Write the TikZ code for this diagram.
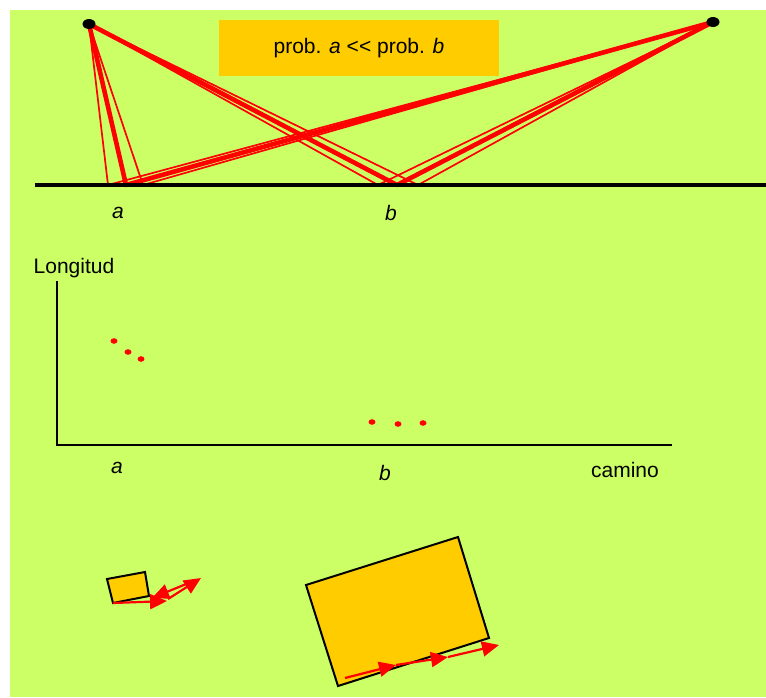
\documentclass[tikz,border=0pt]{standalone}
\usepackage{fontspec}
\setmainfont{Liberation Sans}
\usetikzlibrary{arrows.meta}
\definecolor{bggreen}{HTML}{CCFF66}
\definecolor{boxorange}{HTML}{FFCC00}
\definecolor{rayred}{HTML}{FF0000}
\tikzset{
  lbl/.style={font=\fontsize{21}{25}\selectfont, inner sep=0pt},
  thinray/.style={draw=rayred, line width=1.7pt},
  thickray/.style={draw=rayred, line width=4.6pt, line join=round},
  rdot/.style={fill=rayred, draw=none},
  axis/.style={draw=black, line width=2pt},
  obj/.style={draw=black, line width=2pt, fill=boxorange, line join=miter},
  redarrow/.style={draw=rayred, line width=2.2pt, -{Triangle[length=17pt,width=15pt]}},
}
\begin{document}
\begin{tikzpicture}[x=1pt,y=-1pt]
\useasboundingbox (0,0) rectangle (766,697);
\fill[white] (0,0) rectangle (766,697);
\fill[bggreen] (10,10) rectangle (766,697);

% sources
\coordinate (S) at (89,24);
\coordinate (T) at (713,22);
\coordinate (a1) at (108,185);
\coordinate (a2) at (126,185);
\coordinate (a3) at (143,185);
\coordinate (b1) at (378,185);
\coordinate (b2) at (397,185);
\coordinate (b3) at (418,185);

\draw[thinray] (S) -- (a1) -- (T);
\draw[thinray] (S) -- (a3) -- (T);
\draw[thinray] (S) -- (b1) -- (T);
\draw[thinray] (S) -- (b3) -- (T);
\draw[thickray] (S) -- (a2) -- (T);
\draw[thickray] (S) -- (b2) -- (T);

% ground
\coordinate (g0) at (35,185);
\coordinate (g1) at (766,185);
\draw[line width=4pt] (g0) -- (g1);

\fill[black] (S) ellipse (6.5 and 5);
\fill[black] (T) ellipse (6.5 and 5);

\node[fill=boxorange, minimum width=280pt, minimum height=56pt, inner sep=0pt, font=\fontsize{21}{25}\selectfont] (prob) at (359,48) {prob. \textit{a} {<}{<} prob. \textit{b}};

\node[lbl] (la) at (118,213) {\textit{a}};
\node[lbl] (lb) at (391,213) {\textit{b}};

% graph
\coordinate (O) at (57,445);
\coordinate (Ytop) at (57,281);
\coordinate (Xend) at (672,445);
\draw[axis] (Ytop) -- (O) -- (Xend);
\node[lbl] (long) at (74,268) {Longitud};
\node[lbl] (ga) at (117,468) {\textit{a}};
\node[lbl] (gb) at (385,473) {\textit{b}};
\node[lbl] (cam) at (625,470) {camino};

\fill[rdot] (114,341) ellipse (3.5 and 2.8);
\fill[rdot] (128,352) ellipse (3.5 and 2.8);
\fill[rdot] (141,359) ellipse (3.5 and 2.8);
\fill[rdot] (372,422) ellipse (3.5 and 2.8);
\fill[rdot] (398,424) ellipse (3.5 and 2.8);
\fill[rdot] (423,423) ellipse (3.5 and 2.8);

% small object
\draw[obj] (107,579) -- (145,572) -- (149,596) -- (113,603) -- cycle;
\coordinate (sA0) at (113,603);
\coordinate (sA1) at (167,601);
\coordinate (sB0) at (196,580);
\coordinate (sB1) at (152,598);
\coordinate (sC0) at (168,599);
\coordinate (sC1) at (201,578);
\draw[redarrow] (sA0) -- (sA1);
\draw[redarrow] (sB0) -- (sB1);
\draw[redarrow] (sC0) -- (sC1);

% large object
\draw[obj] (306,585) -- (458,537) -- (489,638) -- (338,686) -- cycle;
\coordinate (L0) at (345,678);
\coordinate (L1) at (396,665);
\coordinate (L2) at (448,657);
\coordinate (L3) at (499,645);
\draw[redarrow] (L0) -- (L1);
\draw[redarrow] (L1) -- (L2);
\draw[redarrow] (L2) -- (L3);
\end{tikzpicture}
\end{document}
